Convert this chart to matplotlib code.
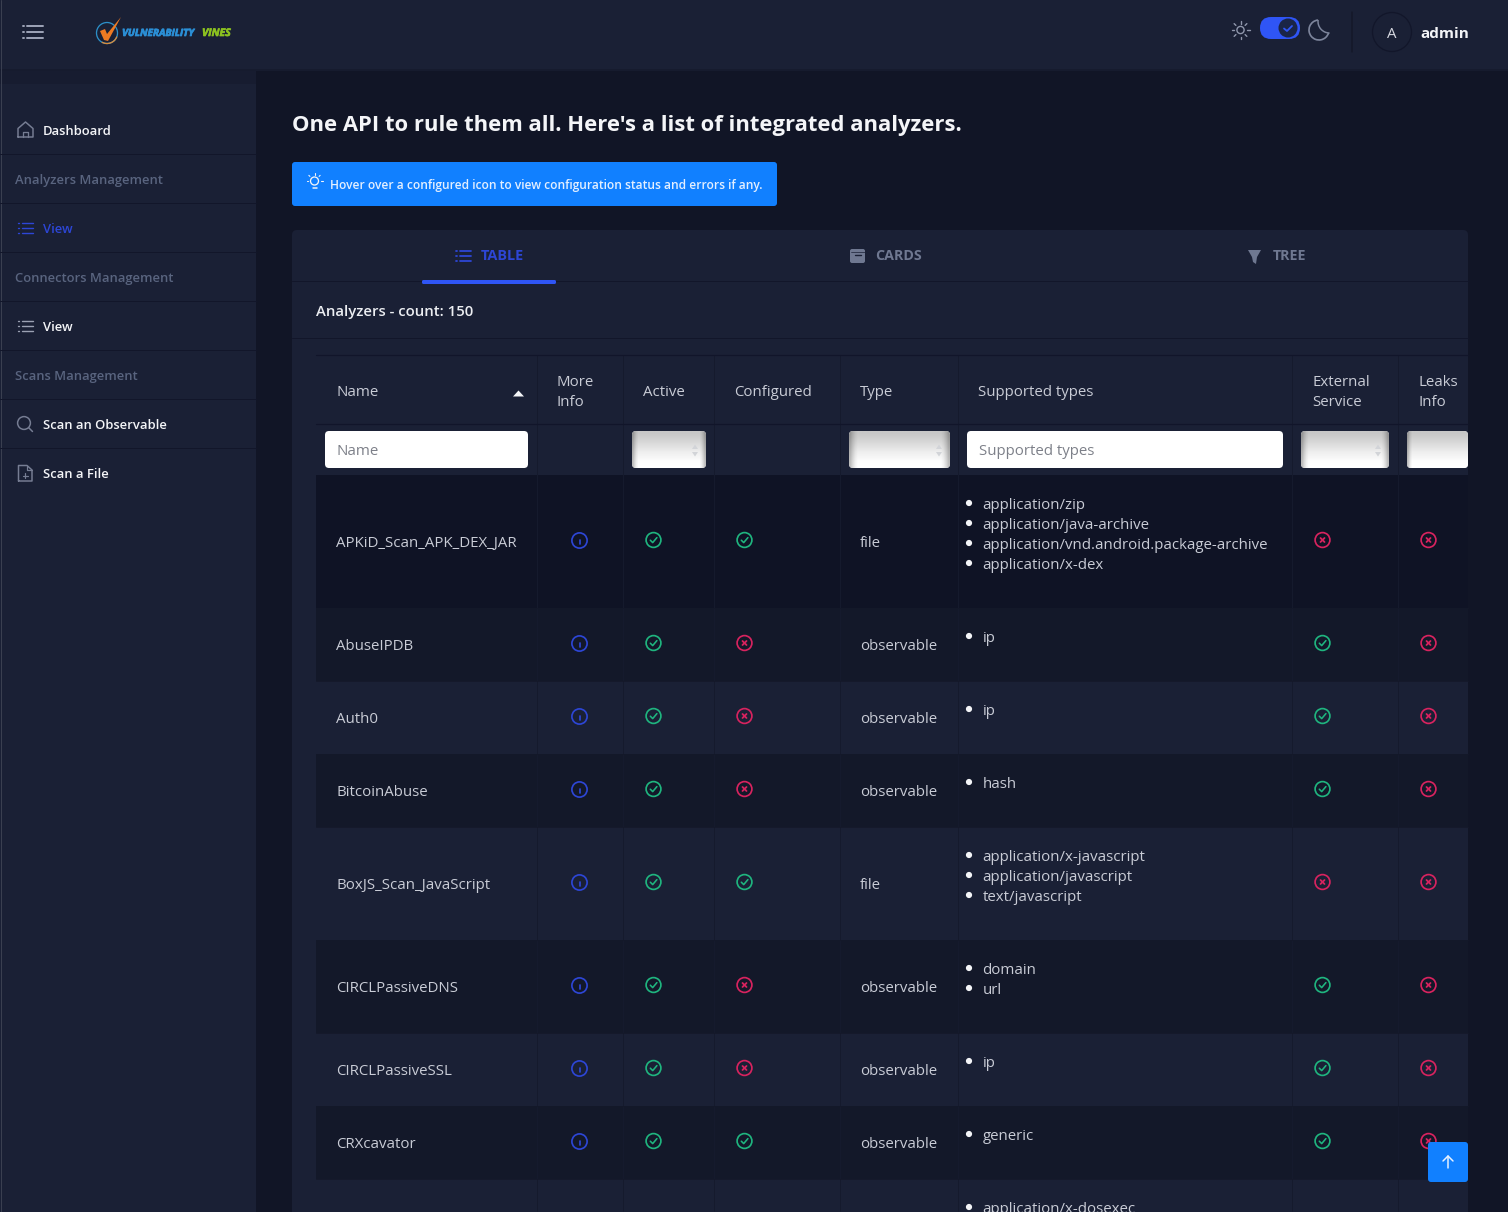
# plot.py
import numpy as np
import matplotlib
matplotlib.use('Agg')
import matplotlib.pyplot as plt
import matplotlib.patheffects as pe
from matplotlib.patches import Circle, FancyBboxPatch, Polygon, Rectangle, Arc

W, H = 1508, 1212

BG_MAIN = '#111526'
BG_PANEL = '#1a2035'
ROW_DARK = '#131829'
ROW_FIRST = '#0f1325'
TXT = '#c9ccd6'
WHITE = '#f4f5f8'
MUTED = '#59647f'
BLUE = '#2d46d6'
BRIGHT = '#2f55f5'
ALERT = '#1180ff'
GREEN = '#1fb57f'
RED = '#d8235f'

# sidebar
side_labels = ['Dashboard', 'Analyzers Management', 'View', 'Connectors Management',
               'View', 'Scans Management', 'Scan an Observable', 'Scan a File']
side_kinds = ['home', None, 'list_active', None, 'list', None, 'search', 'file']

# tabs
tab_labels = ['TABLE', 'CARDS', 'TREE']

# table
col_edges = [316, 537, 623, 714, 840, 958, 1292, 1398, 1468]
col_heads = ['Name', 'More\nInfo', 'Active', 'Configured', 'Type', 'Supported types',
             'External\nService', 'Leaks\nInfo']
names = ['APKiD_Scan_APK_DEX_JAR', 'AbuseIPDB', 'Auth0', 'BitcoinAbuse', 'BoxJS_Scan_JavaScript',
         'CIRCLPassiveDNS', 'CIRCLPassiveSSL', 'CRXcavator']
types = ['file', 'observable', 'observable', 'observable', 'file', 'observable', 'observable',
         'observable']
supported = [['application/zip', 'application/java-archive',
              'application/vnd.android.package-archive', 'application/x-dex'],
             ['ip'], ['ip'], ['hash'],
             ['application/x-javascript', 'application/javascript', 'text/javascript'],
             ['domain', 'url'], ['ip'], ['generic']]
active = [1, 1, 1, 1, 1, 1, 1, 1]
configured = [1, 0, 0, 0, 1, 0, 0, 1]
external = [0, 1, 1, 1, 0, 1, 1, 1]
leaks = [0, 0, 0, 0, 0, 0, 0, 0]
partial_row_types = ['application/x-dosexec']

plt.rcParams['font.family'] = ['Open Sans', 'Noto Sans', 'DejaVu Sans']

fig = plt.figure(figsize=(W / 100, H / 100), dpi=100, facecolor=BG_MAIN)
ax = fig.add_axes([0, 0, 1, 1])
ax.set_xlim(0, W)
ax.set_ylim(H, 0)
ax.axis('off')


def px(n):
    return n * 0.72


def rect(x0, y0, x1, y1, color, **kw):
    r = Rectangle((x0, y0), x1 - x0, y1 - y0, fc=color, ec='none', **kw)
    ax.add_patch(r)
    return r


def rrect(x0, y0, x1, y1, color, rad=4, **kw):
    r = FancyBboxPatch((x0 + rad, y0 + rad), x1 - x0 - 2 * rad, y1 - y0 - 2 * rad,
                       boxstyle='round,pad=%g,rounding_size=%g' % (rad, rad),
                       fc=color, ec='none', **kw)
    ax.add_patch(r)
    return r


def line(xs, ys, color, w=1.0, **kw):
    kw.setdefault('solid_capstyle', 'round')
    ax.plot(xs, ys, color=color, lw=px(w), **kw)


def text(x, y, s, size=15, color=TXT, weight='normal', **kw):
    # size is in pixels, y is the baseline
    return ax.text(x, y, s, fontsize=px(size), color=color, fontweight=weight,
                   va='baseline', **kw)


def ring(x, y, r, color, w=1.7, fill='none'):
    ax.add_patch(Circle((x, y), r, fc=fill, ec=color, lw=px(w), zorder=2))


def status_icon(x, y, ok):
    color = GREEN if ok else RED
    ring(x, y, 7.4, color)
    if ok:
        line([x - 3.2, x - 0.8, x + 3.4], [y + 0.2, y + 2.6, y - 2.4], color, 1.6)
    else:
        line([x - 2, x + 2], [y - 2, y + 2], color, 1.8)
        line([x - 2, x + 2], [y + 2, y - 2], color, 1.8)


def info_icon(x, y):
    ring(x, y, 7.6, BLUE)
    line([x, x], [y - 0.5, y + 3.6], BLUE, 1.7)
    line([x, x], [y - 3.6, y - 3.4], BLUE, 1.8)


def list_icon(x, y, color, w=1.4):
    for dy in (-5, 0, 5):
        line([x - 7.5, x - 6.5], [y + dy, y + dy], color, w)
        line([x - 3.5, x + 7.5], [y + dy, y + dy], color, w)


def home_icon(x, y, color):
    line([x - 7.5, x - 7.5, x, x + 7.5, x + 7.5, x - 7.5],
         [y + 7, y - 1.5, y - 8, y - 1.5, y + 7, y + 7], color, 1.5)
    line([x - 2.7, x - 2.7, x + 2.7, x + 2.7], [y + 7, y + 1.5, y + 1.5, y + 7], color, 1.3)


def search_icon(x, y, color):
    ring(x - 1, y - 1, 6.4, color, 1.5)
    line([x + 3.8, x + 7.5], [y + 3.8, y + 7.5], color, 1.5)


def file_icon(x, y, color):
    line([x - 6.5, x - 6.5, x + 2, x + 7, x + 7, x - 6.5],
         [y + 8, y - 7.5, y - 7.5, y - 3, y + 8, y + 8], color, 1.5)
    line([x + 1.5, x + 1.5, x + 7], [y - 7.5, y - 3, y - 3], color, 1.2)
    line([x - 2.5, x + 2.5], [y + 2.5, y + 2.5], color, 1.2)
    line([x, x], [y, y + 5], color, 1.2)


def select_box(x0, x1, y0=431, y1=468, open_right=False):
    box = rrect(x0, y0, x1, y1, '#f2f2f4', rad=4)
    # grey at the top and along the sides, like a native select
    top = np.array([0.78, 0.81, 0.85, 0.89, 0.93, 0.96, 0.99, 1.0])
    side = np.ones(40)
    side[:3] = [0.74, 0.86, 0.95]
    if not open_right:
        side[-3:] = [0.95, 0.86, 0.74]
    im = ax.imshow(np.outer(top, side), extent=[x0, x1, y1, y0], cmap='gray', vmin=0, vmax=1,
                   aspect='auto', interpolation='bilinear', zorder=2.1)
    im.set_clip_path(box)
    # small up and down arrows
    if not open_right:
        cx = x1 - 11
        ax.add_patch(Polygon([[cx - 3, 449], [cx + 3, 449], [cx, 444.5]], fc='#d2d4d8', zorder=3))
        ax.add_patch(Polygon([[cx - 3, 452], [cx + 3, 452], [cx, 456.5]], fc='#d2d4d8', zorder=3))


# main layout
rect(0, 70, 256, H, BG_PANEL)
rect(0, 70, 256, 84, '#171c30')
rect(256, 70, 292, H, BG_MAIN)
rrect(292, 230, 1468, H + 20, BG_PANEL, rad=5)
rect(0, 0, W, 70, BG_PANEL)
rect(0, 69, W, 71, '#161b2e')
line([0.5, 0.5], [0, H], '#3a3f50', 1.0)
line([0, W], [H - 0.5, H - 0.5], '#3a3f50', 1.0)

# header bar
for yy in (26, 32, 38):
    line([23, 24], [yy, yy], '#9aa0b4', 2)
    line([27, 43], [yy, yy], '#9aa0b4', 2)

ring(107, 33, 10.5, '#2c8fc8', 1.3)
ax.add_patch(Arc((107, 33), 21, 21, theta1=20, theta2=120, ec='#d88b3a', lw=px(1.3), zorder=2))
ax.add_patch(Polygon([[100, 31], [105, 29], [107, 34], [121, 17], [108, 41], [104, 40]],
                     fc='#ee7a22', ec='none', zorder=3))
for x, s, c, fs in [(122, 'VULNERABILITY', '#2b8fd6', 10), (202, 'VINES', '#8cc220', 10.5)]:
    t = text(x, 36, s, fs, c, 'bold', style='italic')
    t.set_path_effects([pe.withStroke(linewidth=0.5, foreground=c)])

# sun, toggle, moon
ring(1240.5, 30, 3.6, '#8f96ab', 1.4)
for ang in np.arange(0, 360, 45):
    ca, sa = np.cos(np.radians(ang)), np.sin(np.radians(ang))
    line([1240.5 + 6.5 * ca, 1240.5 + 9 * ca], [30 + 6.5 * sa, 30 + 9 * sa], '#8f96ab', 1.4)
rrect(1260, 17, 1300, 39, BRIGHT, rad=11)
ax.add_patch(Circle((1288, 28), 9.5, fc='#1a2547', ec='none', zorder=2))
line([1284, 1287, 1292], [28.5, 31, 26], BRIGHT, 1.8)
ax.add_patch(Arc((1319, 30), 20, 20, theta1=17, theta2=264, ec='#7d859c', lw=px(1.7), zorder=2))
ax.add_patch(Arc((1329.5, 21.5), 23, 23, theta1=90, theta2=188, ec='#7d859c', lw=px(1.5), zorder=2))
line([1352, 1352], [12, 52], '#141829', 1.5)
ring(1392, 32, 19.5, '#12162a', 1.3)
text(1392, 38, 'A', 15, '#d6d8e0', ha='center')
text(1420.5, 38, 'admin', 15.2, WHITE, 'bold')

# sidebar
for i, (label, kind) in enumerate(zip(side_labels, side_kinds)):
    cy = 130 + 49 * i
    if i < 7:
        line([0, 256], [cy + 24, cy + 24], '#12162a', 1.0)
    if kind is None:
        text(15, cy + 4.9, label, 13, MUTED, 'semibold')
    else:
        icol = BLUE if kind == 'list_active' else '#767d93'
        tcol = BLUE if kind == 'list_active' else WHITE
        if kind.startswith('list'):
            list_icon(25, cy, '#9ba1b3' if kind == 'list' else icol)
        elif kind == 'home':
            home_icon(25.5, cy, icol)
        elif kind == 'search':
            search_icon(25, cy, icol)
        elif kind == 'file':
            file_icon(25, cy, icol)
        text(43, cy + 4.9, label, 13, tcol, 'semibold')

# heading and alert
text(291.5, 131.2, "One API to rule them all. Here's a list of integrated analyzers.", 21.97,
     WHITE, 'bold')
rrect(292, 162, 777, 206, ALERT, rad=3)
ring(314.5, 181, 4, WHITE, 1.3)
line([312.5, 316.5], [188, 188], WHITE, 1.5)
for ang in (180, 225, 270, 315, 0):
    ca, sa = np.cos(np.radians(ang)), np.sin(np.radians(ang))
    line([314.5 + 6.5 * ca, 314.5 + 8 * ca], [181 + 6.5 * sa, 181 + 8 * sa], WHITE, 1.1)
text(330, 189, 'Hover over a configured icon to view configuration status and errors if any.',
     12.05, '#e3efff', 'semibold')

# tabs
list_icon(463, 256, BLUE, 1.8)
text(481, 260, tab_labels[0], 14.5, BLUE, 'bold')
rrect(850, 249, 865, 263, '#6f7891', rad=2)
line([854.5, 860.5], [255, 255], BG_PANEL, 1.4)
line([850.5, 864.5], [251.5, 251.5], BG_PANEL, 0.7)
text(875.5, 260, tab_labels[1], 14.2, '#6f7891', 'bold')
ax.add_patch(Polygon([[1248, 250], [1261, 250], [1257, 257], [1256, 264], [1253, 262], [1252, 257]],
                     fc='#6f7891', ec='none'))
text(1272.5, 260, tab_labels[2], 14.2, '#6f7891', 'bold')
line([292, 1468], [281, 281], '#12162a', 1.0)
rrect(422, 280, 556, 284, BRIGHT, rad=1.5, zorder=3)
text(315.5, 316, 'Analyzers - count: 150', 14.9, '#eceef2', 'semibold')
line([292, 1468], [338, 338], '#12162a', 1.0)

# table header
rect(316, 355, 1468, 475, BG_PANEL)
line([316, 1468], [355, 355], '#11152a', 1.2)
line([316, 1468], [424, 424], '#11152a', 1.2)
for j, head in enumerate(col_heads):
    x = col_edges[j] + 20
    parts = head.split('\n')
    if len(parts) == 1:
        text(x, 396, parts[0], 15, TXT)
    else:
        text(x, 386, parts[0], 15, TXT)
        text(x, 406, parts[1], 15, TXT)
ax.add_patch(Polygon([[513, 396.5], [524, 396.5], [518.5, 390.5]], fc=WHITE, ec='none'))

# filter row
filter_boxes = [(325, 528, 'Name'), (632, 706, None), (849, 950, None),
                (967, 1283, 'Supported types'), (1301, 1389, None), (1407, 1468, None)]
for x0, x1, hint in filter_boxes:
    if hint:
        rrect(x0, 431, x1, 468, '#ffffff', rad=4)
        text(x0 + 12, 455, hint, 15, '#7d8089')
    else:
        select_box(x0, x1, open_right=x1 == 1468)

# table body
y = 475
row_tops = []
for i, name in enumerate(names):
    n = len(supported[i])
    h = 53 + 20 * n
    row_tops.append(y)
    if i == 0:
        col = ROW_FIRST
    else:
        col = ROW_DARK if i % 2 == 1 else BG_PANEL
    rect(316, y, 1468, y + h, col)
    cy = y + h / 2
    text(col_edges[0] + 20.2, cy + 5.5, name, 15, TXT)
    info_icon(579.5, cy - 1)
    status_icon(653.5, cy - 1.5, active[i])
    status_icon(744.5, cy - 1.5, configured[i])
    text(col_edges[4] + 20.2, cy + 5.5, types[i], 15, TXT)
    for k, s in enumerate(supported[i]):
        ax.add_patch(Circle((969, y + 28 + 20 * k), 3.1, fc=WHITE, ec='none'))
        text(982.5, y + 34 + 20 * k, s, 15, TXT)
    status_icon(1322.5, cy - 1.5, external[i])
    status_icon(1428.5, cy - 1.5, leaks[i])
    y += h

# row cut off by the window
rect(316, y, 1468, H - 1, BG_PANEL)
ax.add_patch(Circle((969, y + 28), 3.1, fc=WHITE, ec='none'))
text(982.5, y + 34, partial_row_types[0], 15, TXT)
last_y = y

# column rules
for x in col_edges[1:-1]:
    ax.plot([x - 0.5, x - 0.5], [355, H - 1], color='#151a2d', lw=px(1.0), zorder=1.5,
            solid_capstyle='butt')
for yy in row_tops[1:] + [last_y]:
    ax.plot([316, 1468], [yy, yy], color='#141829', lw=px(0.8), zorder=1.5)

# scroll to top button
rrect(1428, 1142, 1468, 1182, ALERT, rad=3, zorder=5)
line([1448, 1448], [1156, 1168], '#e8f2ff', 1.5, zorder=6)
line([1443, 1448, 1453], [1161, 1156, 1161], '#e8f2ff', 1.5, zorder=6)

ax.set_xlim(0, W)
ax.set_ylim(H, 0)
fig.savefig('out.png', dpi=100, facecolor=BG_MAIN)
